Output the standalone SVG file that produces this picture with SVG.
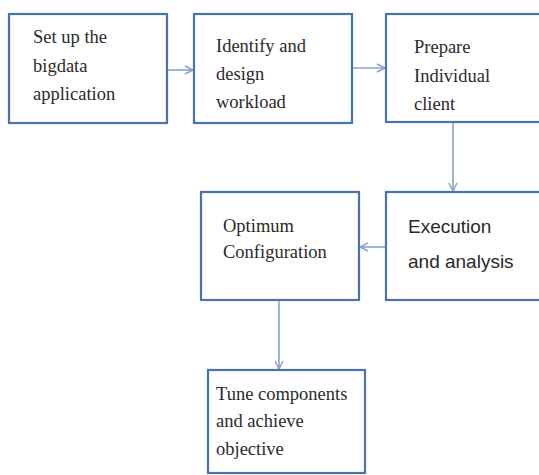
<svg xmlns="http://www.w3.org/2000/svg" width="539" height="475" viewBox="0 0 539 475">
<style>
.box{fill:#ffffff;stroke:#4a72ae;stroke-width:2.2}
.t{font-family:"Liberation Serif","Times New Roman",serif;font-size:18.5px;fill:#2a2a2a}
.s{font-family:"Liberation Sans",Arial,sans-serif;font-size:19px;fill:#2a2a2a}
.c{stroke:#8aa3c8;stroke-width:1.6;fill:none}
</style>
<defs>
<marker id="a" markerWidth="10" markerHeight="10" refX="9" refY="5" orient="auto" markerUnits="userSpaceOnUse">
<path d="M1,1 L9,5 L1,9" fill="none" stroke="#8aa3c8" stroke-width="1.5"/>
</marker>
</defs>
<rect width="539" height="475" fill="#ffffff"/>
<g id="connectors">
<line class="c" x1="167" y1="70" x2="193" y2="70" marker-end="url(#a)"/>
<line class="c" x1="352" y1="68" x2="385" y2="68" marker-end="url(#a)"/>
<line class="c" x1="453" y1="123" x2="453" y2="191" marker-end="url(#a)"/>
<line class="c" x1="386" y1="247" x2="360" y2="247" marker-end="url(#a)"/>
<line class="c" x1="279" y1="300" x2="279" y2="369" marker-end="url(#a)"/>
</g>
<g id="n1">
<rect class="box" x="9" y="14" width="158" height="109"/>
<text class="t" x="33" y="43">Set up the</text>
<text class="t" x="33" y="72">bigdata</text>
<text class="t" x="33" y="100">application</text>
</g>
<g id="n2">
<rect class="box" x="194" y="14" width="158" height="109"/>
<text class="t" x="216" y="52">Identify and</text>
<text class="t" x="216" y="80">design</text>
<text class="t" x="216" y="108">workload</text>
</g>
<g id="n3">
<rect class="box" x="386" y="14" width="160" height="108"/>
<text class="t" x="414" y="53">Prepare</text>
<text class="t" x="414" y="82">Individual</text>
<text class="t" x="414" y="110">client</text>
</g>
<g id="n4">
<rect class="box" x="386" y="192" width="160" height="108"/>
<text class="s" x="408" y="233">Execution</text>
<text class="s" x="408" y="268">and analysis</text>
</g>
<g id="n5">
<rect class="box" x="201" y="192" width="158" height="108"/>
<text class="t" x="223" y="232">Optimum</text>
<text class="t" x="223" y="258">Configuration</text>
</g>
<g id="n6">
<rect class="box" x="208" y="370" width="157" height="103"/>
<text class="t" x="216" y="400">Tune components</text>
<text class="t" x="216" y="427">and achieve</text>
<text class="t" x="216" y="455">objective</text>
</g>
</svg>
